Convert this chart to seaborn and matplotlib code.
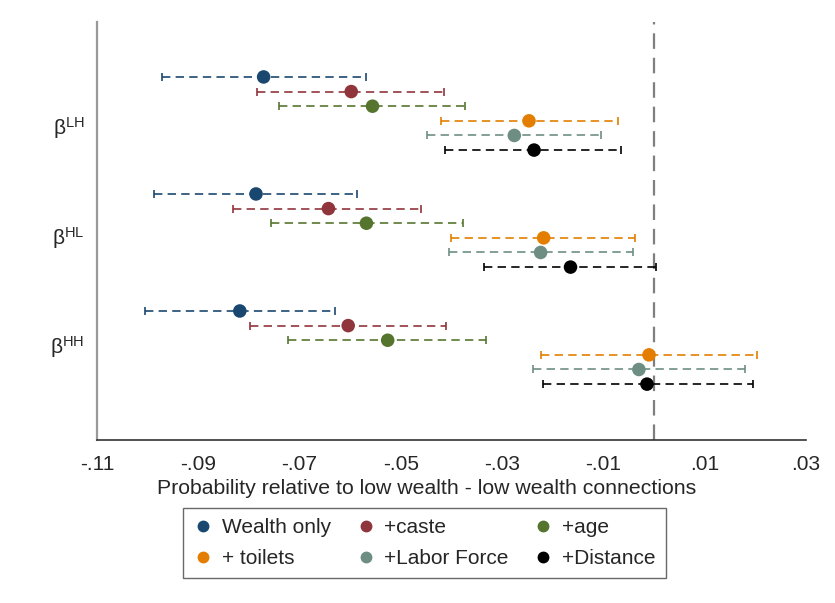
import numpy as np
import pandas as pd
import matplotlib
matplotlib.use("Agg")
import matplotlib.pyplot as plt
from matplotlib.lines import Line2D
import seaborn as sns

groups = ["LH", "HL", "HH"]
models = ["Wealth only", "+caste", "+age", "+ toilets", "+Labor Force", "+Distance"]
colors = ["#1a476f", "#90353b", "#55752f", "#e37e00", "#6e8e84", "#000000"]

est_LH = [-0.0771, -0.0598, -0.0556, -0.0247, -0.0276, -0.0237]
lo_LH = [-0.0972, -0.0784, -0.0740, -0.0421, -0.0449, -0.0413]
hi_LH = [-0.0569, -0.0414, -0.0374, -0.0071, -0.0104, -0.0065]

est_HL = [-0.0786, -0.0643, -0.0568, -0.0218, -0.0224, -0.0165]
lo_HL = [-0.0988, -0.0831, -0.0757, -0.0401, -0.0405, -0.0336]
hi_HL = [-0.0586, -0.0460, -0.0378, -0.0037, -0.0041, 0.0003]

est_HH = [-0.0818, -0.0604, -0.0526, -0.0010, -0.0030, -0.0014]
lo_HH = [-0.1005, -0.0797, -0.0723, -0.0224, -0.0239, -0.0220]
hi_HH = [-0.0630, -0.0411, -0.0331, 0.0203, 0.0179, 0.0196]

xticks = [-0.11, -0.09, -0.07, -0.05, -0.03, -0.01, 0.01, 0.03]
xticklabels = ["-.11", "-.09", "-.07", "-.05", "-.03", "-.01", ".01", ".03"]
xlabel = "Probability relative to low wealth - low wealth connections"

sns.set_style("white")
plt.rcParams["font.family"] = ["Liberation Sans", "DejaVu Sans"]
plt.rcParams["mathtext.fontset"] = "custom"
plt.rcParams["mathtext.rm"] = "Liberation Sans"
plt.rcParams["mathtext.it"] = "Liberation Sans:italic"

rows = []
est_all = [est_LH, est_HL, est_HH]
lo_all = [lo_LH, lo_HL, lo_HH]
hi_all = [hi_LH, hi_HL, hi_HH]
step = 0.125
for gi, g in enumerate(groups):
    for mi, m in enumerate(models):
        rows.append(dict(group=g, model=m, est=est_all[gi][mi], lo=lo_all[gi][mi],
                         hi=hi_all[gi][mi], ypos=gi + (mi - 2.5) * step))
df = pd.DataFrame(rows)

fig = plt.figure(figsize=(8.35, 6.03), dpi=100)
ax = fig.add_axes([97 / 835, 163 / 603, (806 - 97) / 835, (440 - 22) / 603])

ax.axvline(0, color="#7f7f7f", lw=1.6, ls=(0, (7, 4)), zorder=1)

for mi, m in enumerate(models):
    sub = df[df.model == m]
    eb = ax.errorbar(sub.est, sub.ypos,
                     xerr=[sub.est - sub.lo, sub.hi - sub.est],
                     fmt="none", ecolor=colors[mi], elinewidth=1.4,
                     capsize=3.2, capthick=1.4, alpha=0.85, zorder=2)
    for lc in eb[2]:
        lc.set_linestyle((0, (4.3, 2.7)))

sns.scatterplot(data=df, x="est", y="ypos", hue="model", hue_order=models,
                palette=colors, s=95, edgecolor="none", legend=False, ax=ax, zorder=3)

ax.set_xlim(-0.11, 0.03)
ax.set_ylim(2.79, -0.782)
ax.set_xticks(xticks)
ax.set_xticklabels(xticklabels, fontsize=15)
ax.set_yticks([0.095, 1.035, 1.97])
ax.set_yticklabels([r"β$^{\mathrm{LH}}$", r"β$^{\mathrm{HL}}$", r"β$^{\mathrm{HH}}$"], fontsize=15)
ax.tick_params(axis="y", length=0, pad=9)
ax.tick_params(axis="x", length=8, width=1.2, color="#333333", direction="out", pad=3)
ax.set_xlabel(xlabel, fontsize=15.3)
ax.xaxis.set_label_coords(0.465, -0.093)
ax.set_ylabel("")

for s in ["top", "right"]:
    ax.spines[s].set_visible(False)
ax.spines["left"].set_color("#999999")
ax.spines["left"].set_linewidth(1.6)
ax.spines["bottom"].set_color("#333333")
ax.spines["bottom"].set_linewidth(1.2)

handles = [Line2D([], [], marker="o", ls="none", color=c, markersize=7.5) for c in colors]
order = [0, 3, 1, 4, 2, 5]
leg = fig.legend([handles[i] for i in order], [models[i] for i in order],
                 loc="upper center", bbox_to_anchor=(0.508, 1 - 508 / 603), ncol=3,
                 fontsize=15, frameon=True, fancybox=False, edgecolor="#444444",
                 handletextpad=0.4, columnspacing=1.15, handlelength=1.0,
                 borderpad=0.5, labelspacing=0.55, borderaxespad=0)
leg.get_frame().set_linewidth(1.0)

fig.savefig("out.png", dpi=100)
